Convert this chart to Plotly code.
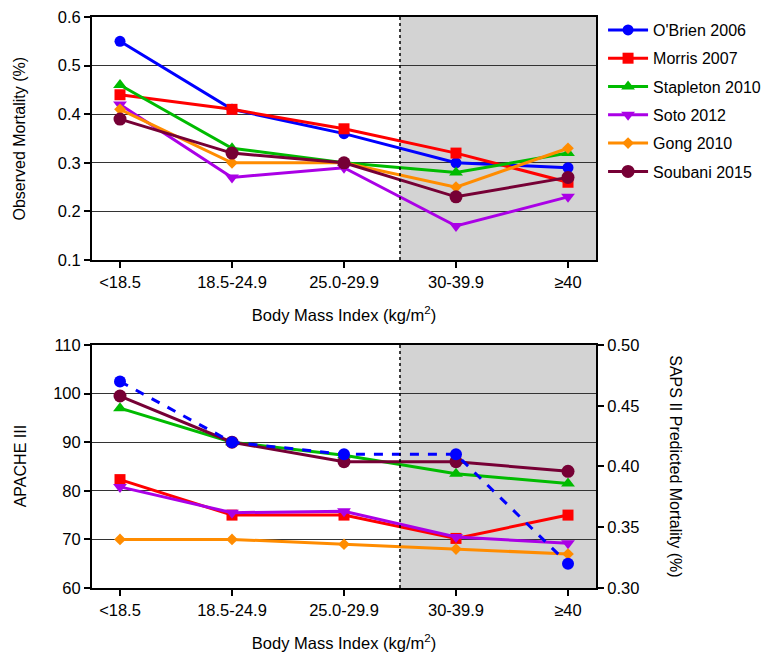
import plotly.graph_objects as go

categories = ["<18.5", "18.5-24.9", "25.0-29.9", "30-39.9", "≥40"]
studies = ["O'Brien 2006", "Morris 2007", "Stapleton 2010", "Soto 2012", "Gong 2010", "Soubani 2015"]
colors = ["#0000FF", "#FF0000", "#00BB00", "#AA00E6", "#FF8C00", "#760035"]
symbols = ["circle", "square", "triangle-up", "triangle-down", "diamond", "circle"]
msizes = [11, 11, 12, 12, 9, 13]

observed_obrien = [0.55, 0.41, 0.36, 0.30, 0.29]
observed_morris = [0.44, 0.41, 0.37, 0.32, 0.26]
observed_stapleton = [0.46, 0.33, 0.30, 0.28, 0.32]
observed_soto = [0.42, 0.27, 0.29, 0.17, 0.23]
observed_gong = [0.41, 0.30, 0.30, 0.25, 0.33]
observed_soubani = [0.39, 0.32, 0.30, 0.23, 0.27]

apache_morris = [82.3, 75.0, 75.0, 70.2, 75.0]
apache_stapleton = [97.0, 90.0, 87.3, 83.5, 81.5]
apache_soto = [80.8, 75.5, 75.8, 70.5, 69.2]
apache_gong = [70.0, 70.0, 69.0, 68.0, 67.0]
apache_soubani = [99.5, 90.0, 86.0, 86.0, 84.0]
saps_obrien = [0.47, 0.42, 0.41, 0.41, 0.32]

observed = [observed_obrien, observed_morris, observed_stapleton,
            observed_soto, observed_gong, observed_soubani]

xs = list(range(len(categories)))
fig = go.Figure()

for i, (name, vals, c, s, ms) in enumerate(zip(studies, observed, colors, symbols, msizes)):
    fig.add_trace(go.Scatter(x=xs, y=vals, name=name, mode="lines+markers",
                             legendgroup=f"g{i}",
                             line=dict(color=c, width=3),
                             marker=dict(color=c, symbol=s, size=ms),
                             xaxis="x", yaxis="y"))

bottom = [(1, apache_morris), (2, apache_stapleton), (3, apache_soto),
          (4, apache_gong), (5, apache_soubani)]
for i, vals in bottom:
    fig.add_trace(go.Scatter(x=xs, y=vals, name=studies[i], mode="lines+markers",
                             line=dict(color=colors[i], width=3),
                             marker=dict(color=colors[i], symbol=symbols[i], size=msizes[i]),
                             showlegend=False, xaxis="x2", yaxis="y2"))
fig.add_trace(go.Scatter(x=xs, y=saps_obrien, name=studies[0], mode="lines+markers",
                         line=dict(color=colors[0], width=3, dash="dash"),
                         marker=dict(color=colors[0], symbol="circle", size=12),
                         showlegend=False, xaxis="x2", yaxis="y3"))

font = "Liberation Sans, Arial, sans-serif"
axis_common = dict(showline=True, linecolor="black", linewidth=2, ticks="outside",
                   ticklen=6, tickwidth=2, tickcolor="black", zeroline=False,
                   automargin=False, ticklabeloverflow="allow",
                   tickfont=dict(size=16.5, color="black"))
xcommon = dict(axis_common, range=[-0.25, 4.25], tickvals=xs, ticktext=categories,
               showgrid=False, mirror=True,
               title=dict(text="Body Mass Index (kg/m<sup>2</sup>)",
                          font=dict(size=16.5, color="black"), standoff=20))

fig.update_layout(
    width=764, height=648,
    margin=dict(l=84, r=176, t=9, b=68, autoexpand=False),
    paper_bgcolor="white", plot_bgcolor="white",
    font=dict(family=font, color="black"),
    showlegend=True,
    legend=dict(x=1.014, y=1.007, xanchor="left", yanchor="top",
                font=dict(size=16, color="black"), tracegroupgap=4.5,
                itemwidth=40, bgcolor="rgba(0,0,0,0)"),
    xaxis=dict(xcommon, domain=[0, 1], anchor="y"),
    yaxis=dict(axis_common, domain=[0.5744, 1.0], range=[0.1, 0.6], dtick=0.1,
               tickformat=".1f", showgrid=True, gridcolor="#333333", gridwidth=1,
               mirror=True, anchor="x"),
    xaxis2=dict(xcommon, domain=[0, 1], anchor="y2"),
    yaxis2=dict(axis_common, domain=[0, 0.4256], range=[60, 110], dtick=10,
                showgrid=True, gridcolor="#333333", gridwidth=1, anchor="x2"),
    yaxis3=dict(axis_common, overlaying="y2", side="right", anchor="x2",
                range=[0.30, 0.50], dtick=0.05, tickformat=".2f", showgrid=False),
    annotations=[
        dict(text="Observed Mortality (%)", xref="paper", yref="paper",
             x=-0.143, y=0.787, textangle=-90, showarrow=False,
             font=dict(size=16, color="black"), xanchor="center", yanchor="middle"),
        dict(text="APACHE III", xref="paper", yref="paper",
             x=-0.143, y=0.213, textangle=-90, showarrow=False,
             font=dict(size=16, color="black"), xanchor="center", yanchor="middle"),
        dict(text="SAPS II Predicted Mortality (%)", xref="paper", yref="paper",
             x=1.157, y=0.213, textangle=90, showarrow=False,
             font=dict(size=16, color="black"), xanchor="center", yanchor="middle"),
    ],
    shapes=[
        dict(type="rect", xref="x", yref="y domain", x0=2.5, x1=4.25, y0=0, y1=1,
             fillcolor="#D3D3D3", line=dict(width=0), layer="below"),
        dict(type="line", xref="x", yref="y domain", x0=2.5, x1=2.5, y0=0, y1=1,
             line=dict(color="black", width=1.5, dash="dot"), layer="above"),
        dict(type="rect", xref="x2", yref="y2 domain", x0=2.5, x1=4.25, y0=0, y1=1,
             fillcolor="#D3D3D3", line=dict(width=0), layer="below"),
        dict(type="line", xref="x2", yref="y2 domain", x0=2.5, x1=2.5, y0=0, y1=1,
             line=dict(color="black", width=1.5, dash="dot"), layer="above"),
    ],
)

fig.write_html("out.html")
